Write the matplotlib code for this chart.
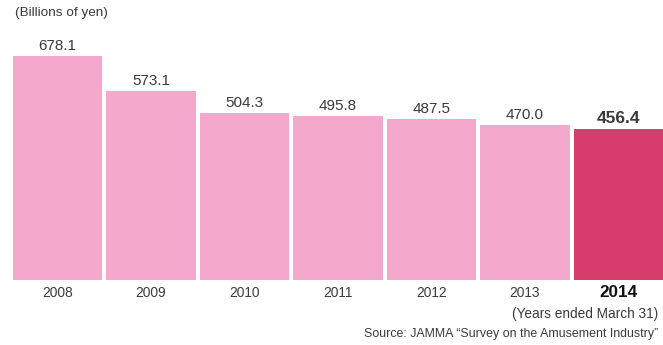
import matplotlib
matplotlib.use("Agg")
import matplotlib.pyplot as plt

plt.rcParams['font.family'] = ['Liberation Sans', 'DejaVu Sans']

years = ["2008", "2009", "2010", "2011", "2012", "2013", "2014"]
values = [678.1, 573.1, 504.3, 495.8, 487.5, 470.0, 456.4]
value_labels = ["678.1", "573.1", "504.3", "495.8", "487.5", "470.0", "456.4"]

light = "#F4A8CC"
dark = "#D63D6C"
text_color = "#3a3a3a"

W, H = 663, 345
fig = plt.figure(figsize=(W / 100, H / 100), dpi=100)
fig.patch.set_facecolor("white")

# axes: bottom of bars at y=280 px, left edge 13 px, right edge 663 px
ax = fig.add_axes([13 / W, (H - 280) / H, 650 / W, 247.7 / H])
ax.set_xlim(-0.476, 6.476)
ax.set_ylim(0, 750)
ax.axis("off")

x = list(range(len(years)))
colors = [light] * (len(years) - 1) + [dark]
ax.bar(x, values, width=0.952, color=colors, edgecolor="none")

for i, (v, lab) in enumerate(zip(values, value_labels)):
    last = i == len(years) - 1
    ax.annotate(lab, (i, v), xytext=(0, 4.3), textcoords="offset points",
                ha="center", va="baseline", color=text_color,
                fontsize=12.5 if last else 11,
                fontweight="bold" if last else "normal")
    ax.annotate(years[i], (i, 0), xytext=(0, -12.5), textcoords="offset points",
                ha="center", va="baseline", color="#111111" if last else text_color,
                fontsize=12.3 if last else 9.9,
                fontweight="bold" if last else "normal")

fig.text(15 / W, 1 - 13 / H, "(Billions of yen)", ha="left", va="center",
         fontsize=9.7, color=text_color)
fig.text(658 / W, 1 - 314 / H, "(Years ended March 31)", ha="right", va="center",
         fontsize=9.8, color=text_color)
fig.text(658 / W, 1 - 334 / H,
         "Source: JAMMA \u201cSurvey on the Amusement Industry\u201d",
         ha="right", va="center", fontsize=8.9, color=text_color)

fig.savefig("out.png", dpi=100)
